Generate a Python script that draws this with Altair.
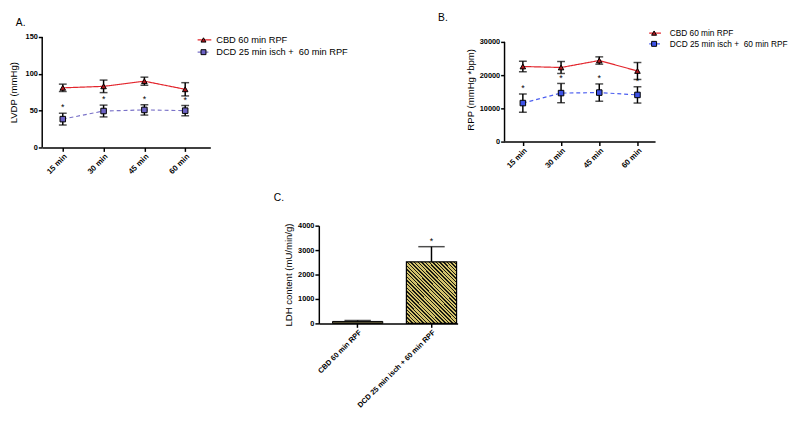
import altair as alt
import pandas as pd

FONT = "Liberation Sans"

# ---------------- data ----------------
times = ["15 min", "30 min", "45 min", "60 min"]
series_labels = ["CBD 60 min RPF", "DCD 25 min isch +\u00a0 60 min RPF"]

lvdp_cbd = [81, 83, 90, 79]
lvdp_cbd_sem = [5, 8.5, 5.5, 9]
lvdp_dcd = [38.5, 49.5, 51, 50]
lvdp_dcd_sem = [8, 8, 7, 7]

rpp_cbd = [22600, 22300, 24400, 21250]
rpp_cbd_sem = [1600, 1800, 1100, 2550]
rpp_dcd = [11600, 14600, 14750, 14050]
rpp_dcd_sem = [2750, 2900, 2600, 2450]

ldh_groups = ["CBD 60 min RPF", "DCD 25 min isch + 60 min RPF"]
ldh_mean = [80, 2520]
ldh_sem = [40, 620]

significant = [False, True]


def series_frame(means, sems):
    return pd.DataFrame({
        "time": times,
        "mean": means,
        "lo": [m - e for m, e in zip(means, sems)],
        "hi": [m + e for m, e in zip(means, sems)],
    })


def legend_layers(entries, x0, x1, xm, xt, ys, fontsize):
    layers = []
    for (label, color, dash, shape, fill, size), y in zip(entries, ys):
        base = alt.Chart(pd.DataFrame({"label": [label]}))
        layers.append(base.mark_rule(color=color, strokeWidth=1.2, strokeDash=dash).encode(
            x=alt.value(x0), x2=alt.value(x1), y=alt.value(y)))
        layers.append(base.mark_point(shape=shape, filled=True, color=fill, fill=fill, stroke="black",
                                      strokeWidth=1, size=size * 0.8, opacity=1).encode(
            x=alt.value(xm), y=alt.value(y)))
        layers.append(base.mark_text(align="left", baseline="middle", font=FONT, fontSize=fontsize,
                                     color="black").encode(
            x=alt.value(xt), y=alt.value(y), text="label:N"))
    return layers


def line_panel(frames, styles, width, height, yvals, ytitle, title_pad, xpad, xalign,
               title, title_dx, title_offset, leg, leg_font, extra_top=0):
    ymax = yvals[-1]
    # extra_top: blank pixels kept above the top tick inside the plot area
    dom_max = ymax * (height + extra_top) / height
    xenc = alt.X("time:N", sort=times,
                 scale=alt.Scale(type="point", padding=xpad, align=xalign),
                 axis=alt.Axis(title=None, labelAngle=-45, labelFontSize=8))

    def yenc(f):
        return alt.Y(f + ":Q", scale=alt.Scale(domain=[0, dom_max], nice=False),
                     axis=alt.Axis(values=yvals, title=ytitle, format="d", domain=False,
                                   titlePadding=title_pad))

    # y-axis line running from the lowest to the highest tick value
    axis_line = alt.Chart(pd.DataFrame({"lo": [yvals[0]], "hi": [ymax]})).mark_rule(
        color="black", strokeWidth=1.5).encode(x=alt.value(0), y=yenc("lo"), y2="hi:Q")

    lines, errs, pts, stars = [], [], [], []
    for df, (color, dash, shape, fill, size), sig in zip(frames, styles, significant):
        base = alt.Chart(df)
        lines.append(base.mark_line(color=color, strokeWidth=1.2, strokeDash=dash).encode(
            x=xenc, y=yenc("mean")))
        errs.append(base.mark_rule(color="black", strokeWidth=1.5).encode(
            x=xenc, y=yenc("lo"), y2="hi:Q"))
        errs.append(base.mark_tick(color="black", thickness=1.5, size=8).encode(x=xenc, y=yenc("lo")))
        errs.append(base.mark_tick(color="black", thickness=1.5, size=8).encode(x=xenc, y=yenc("hi")))
        pts.append(base.mark_point(shape=shape, filled=True, color=fill, fill=fill, stroke="black",
                                   strokeWidth=1, size=size, opacity=1).encode(x=xenc, y=yenc("mean")))
        if sig:
            stars.append(base.mark_text(text="*", baseline="bottom", dy=-1, font=FONT, fontSize=9,
                                        color="black").encode(x=xenc, y=yenc("hi")))
    entries = [(lab,) + st for lab, st in zip(series_labels, styles)]
    legs = legend_layers(entries, *leg, fontsize=leg_font)
    return alt.layer(*(lines + errs + pts + stars + legs + [axis_line])).properties(
        width=width, height=height + extra_top,
        title=alt.TitleParams(title, anchor="start", frame="group", dx=title_dx, offset=title_offset,
                              font=FONT, fontSize=10.5, fontWeight="normal", color="black"))


styles_a = [("#e3262d", [1, 0], "triangle-up", "#b0161c", 32),
            ("#7a72c8", [4, 3], "square", "#6c62c4", 32)]
styles_b = [("#e3262d", [1, 0], "triangle-up", "#b0161c", 32),
            ("#4c5ff0", [4, 3], "square", "#3d52e6", 32)]

panel_a = line_panel(
    [series_frame(lvdp_cbd, lvdp_cbd_sem), series_frame(lvdp_dcd, lvdp_dcd_sem)],
    styles_a, 172, 113, [0, 50, 100, 150], "LVDP (mmHg)", 7, 0.56, 0.45,
    "A.", -27, 5, (159, 173, 165, 178, [3, 15.5]), 9.5)

panel_b = line_panel(
    [series_frame(rpp_cbd, rpp_cbd_sem), series_frame(rpp_dcd, rpp_dcd_sem)],
    styles_b, 154, 102, [0, 10000, 20000, 30000], "RPP (mmHg *bpm)", 4, 0.47, 0.51,
    "B.", -68, 6, (148, 160, 153, 169, [-4, 7]), 8.5, extra_top=5)

# ---------------- panel C ----------------
TAN = "#d3c26c"
STRIPE = "#1a1a10"
N = 34
stops = []
for k in range(N):
    a = round(k / N, 5)
    b = round((k + 0.6) / N, 5)
    c = round((k + 1) / N, 5)
    stops += [alt.GradientStop(offset=a, color=TAN), alt.GradientStop(offset=b, color=TAN),
              alt.GradientStop(offset=b, color=STRIPE), alt.GradientStop(offset=c, color=STRIPE)]
hatch = alt.LinearGradient(gradient="linear", stops=stops, x1=0, y1=1, x2=1, y2=-0.21)

ldh = pd.DataFrame({"group": ldh_groups, "mean": ldh_mean,
                    "hi": [m + e for m, e in zip(ldh_mean, ldh_sem)],
                    "sig": significant})

xc = alt.X("group:N", sort=ldh_groups,
           scale=alt.Scale(paddingInner=0.32, paddingOuter=0.1, align=0.93),
           axis=alt.Axis(title=None, labelAngle=-45, labelFontSize=7.5))


def yc(f):
    return alt.Y(f + ":Q", scale=alt.Scale(domain=[0, 4000], nice=False),
                 axis=alt.Axis(values=[0, 1000, 2000, 3000, 4000], title="LDH content (mU/min/g)",
                               format="d"))


cbase = alt.Chart(ldh)
bar_cbd = cbase.transform_filter(alt.datum.group == ldh_groups[0]).mark_bar(
    fill="#5b5639", stroke="black", strokeWidth=1).encode(x=xc, y=yc("mean"))
bar_dcd = cbase.transform_filter(alt.datum.group == ldh_groups[1]).mark_bar(
    fill=hatch, stroke="black", strokeWidth=1.2).encode(x=xc, y=yc("mean"))
err_c = cbase.mark_rule(color="black", strokeWidth=1.5).encode(x=xc, y=yc("mean"), y2="hi:Q")
cap_c = cbase.mark_tick(color="black", thickness=1.5, size=27).encode(x=xc, y=yc("hi"))
star_c = cbase.transform_filter(alt.datum.sig).mark_text(
    text="*", baseline="bottom", dy=-1, font=FONT, fontSize=9, color="black").encode(x=xc, y=yc("hi"))

panel_c = alt.layer(err_c, cap_c, bar_cbd, bar_dcd, star_c).properties(
    width=142, height=100,
    title=alt.TitleParams("C.", anchor="start", frame="group", dx=-46, offset=19,
                          font=FONT, fontSize=10.5, fontWeight="normal", color="black"))

spacer = alt.Chart(pd.DataFrame({"v": [0]})).mark_point(opacity=0).properties(width=237, height=1)

top_row = alt.concat(panel_a, panel_b, columns=2, align="none", spacing=92)
bottom_row = alt.concat(spacer, panel_c, columns=2, align="none", spacing=0)

chart = alt.concat(top_row, bottom_row, columns=1, align="none", spacing=17).properties(
    padding={"left": 0, "top": 0, "right": 0, "bottom": 0}
).configure_view(stroke=None).configure_axis(
    grid=False, domainColor="black", domainWidth=1.5, tickColor="black", tickWidth=1.5, tickSize=4,
    labelFont=FONT, labelFontWeight="bold", labelFontSize=7.5, labelColor="black", labelPadding=1,
    titleFont=FONT, titleFontSize=9.8, titleFontWeight="normal", titleColor="black"
)

chart.save("out.html", embed_options={"renderer": "svg", "actions": False})
